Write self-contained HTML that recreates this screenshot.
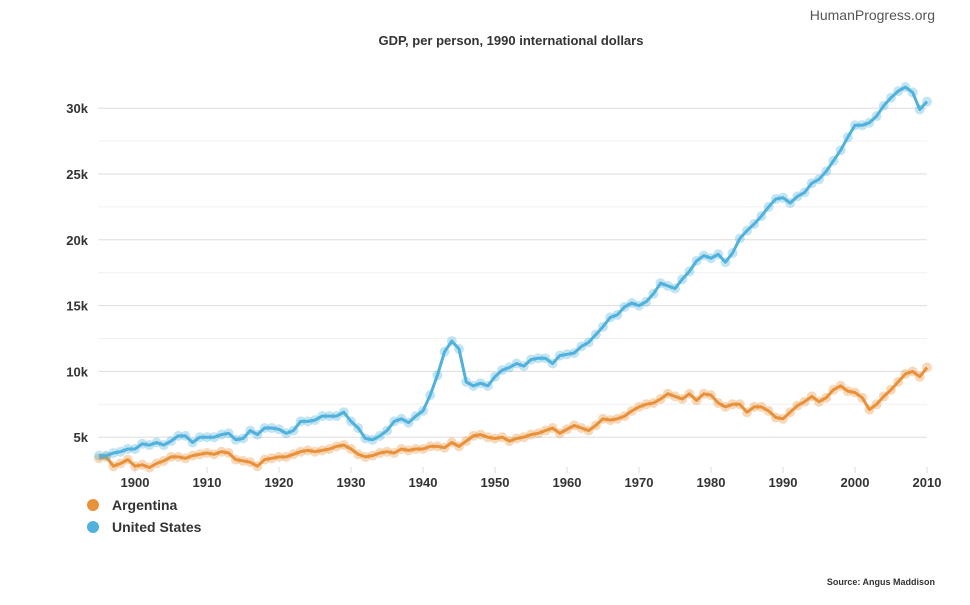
<!DOCTYPE html>
<html><head><meta charset="utf-8"><style>
body{margin:0;background:#fff;width:970px;height:600px;overflow:hidden;font-family:"Liberation Sans",sans-serif}
</style></head><body>
<svg id="s" width="970" height="600" xmlns="http://www.w3.org/2000/svg" font-family="Liberation Sans, sans-serif">
<text x="935" y="20" text-anchor="end" font-size="14" fill="#555">HumanProgress.org</text>
<text x="511" y="45" text-anchor="middle" font-size="13" font-weight="bold" fill="#333">GDP, per person, 1990 international dollars</text>
<text x="935" y="585" text-anchor="end" font-size="9" font-weight="bold" fill="#333">Source: Angus Maddison</text>
<g id="g"></g>
<circle cx="93" cy="505" r="6" fill="#e8913a"/><text x="112" y="510" font-size="14" font-weight="bold" fill="#333">Argentina</text>
<circle cx="93" cy="527" r="6" fill="#4fb1dc"/><text x="112" y="532" font-size="14" font-weight="bold" fill="#333">United States</text>
</svg>
<script>
var us=[3.6,3.6,3.8,3.9,4.1,4.1,4.5,4.4,4.6,4.4,4.7,5.1,5.1,4.6,5.0,5.0,5.0,5.2,5.3,4.8,4.9,5.5,5.2,5.7,5.7,5.6,5.3,5.5,6.2,6.2,6.3,6.6,6.6,6.6,6.9,6.2,5.7,4.9,4.8,5.1,5.5,6.2,6.4,6.1,6.6,7.0,8.2,9.7,11.5,12.3,11.7,9.2,8.9,9.1,8.9,9.6,10.1,10.3,10.6,10.4,10.9,11.0,11.0,10.6,11.2,11.3,11.4,11.9,12.2,12.8,13.4,14.1,14.3,14.9,15.2,15.0,15.3,15.9,16.7,16.5,16.3,17.0,17.6,18.4,18.8,18.6,18.9,18.3,19.0,20.1,20.7,21.2,21.8,22.5,23.1,23.2,22.8,23.3,23.6,24.3,24.6,25.2,26.0,26.8,27.8,28.7,28.7,28.9,29.4,30.2,30.8,31.3,31.6,31.2,29.9,30.5];
var ar=[3.4,3.5,2.8,3.0,3.3,2.8,2.9,2.7,3.0,3.2,3.5,3.5,3.4,3.6,3.7,3.8,3.7,3.9,3.8,3.3,3.2,3.1,2.8,3.3,3.4,3.5,3.5,3.7,3.9,4.0,3.9,4.0,4.1,4.3,4.4,4.1,3.7,3.5,3.6,3.8,3.9,3.8,4.1,4.0,4.1,4.1,4.3,4.3,4.2,4.6,4.3,4.7,5.1,5.2,5.0,4.9,5.0,4.7,4.9,5.0,5.2,5.3,5.5,5.7,5.3,5.6,5.9,5.7,5.5,5.9,6.4,6.3,6.4,6.6,7.0,7.3,7.5,7.6,7.9,8.3,8.1,7.9,8.3,7.8,8.3,8.2,7.6,7.3,7.5,7.5,6.9,7.3,7.3,7.0,6.5,6.4,6.9,7.4,7.7,8.1,7.7,8.0,8.6,8.9,8.5,8.4,8.0,7.1,7.5,8.1,8.6,9.2,9.8,10.0,9.6,10.3];
function X(y){return 135+(y-1900)*7.2}function Y(v){return 503-v*13.16}
var h='';
for(var k=5;k<=30;k+=2.5){var y=Y(k);var major=(k%5===0);
 h+='<line x1="98" x2="927" y1="'+y+'" y2="'+y+'" stroke="'+(major?'#ddd':'#f0f0f0')+'" stroke-width="1"/>';
 if(major)h+='<text x="88" y="'+(y+5)+'" text-anchor="end" font-size="13" font-weight="bold" fill="#333">'+k+'k</text>';}
for(var yr=1900;yr<=2010;yr+=10){var x=X(yr);h+='<line x1="'+x+'" x2="'+x+'" y1="467" y2="473" stroke="#ddd"/><text x="'+x+'" y="487" text-anchor="middle" font-size="13" font-weight="bold" fill="#333">'+yr+'</text>';}
function ser(d,c){var p='',m='';for(var i=0;i<d.length;i++){var x=X(1895+i),y=Y(d[i]);p+=(i?'L':'M')+x.toFixed(1)+' '+y.toFixed(1);m+='<circle cx="'+x.toFixed(1)+'" cy="'+y.toFixed(1)+'" r="5" fill="'+c+'" fill-opacity="0.35"/>';}
 return m+'<path d="'+p+'" fill="none" stroke="'+c+'" stroke-width="3" stroke-linejoin="round"/>';}
h+=ser(ar,'#e8913a')+ser(us,'#4fb1dc');
document.getElementById('g').innerHTML=h;
</script>
</body></html>
